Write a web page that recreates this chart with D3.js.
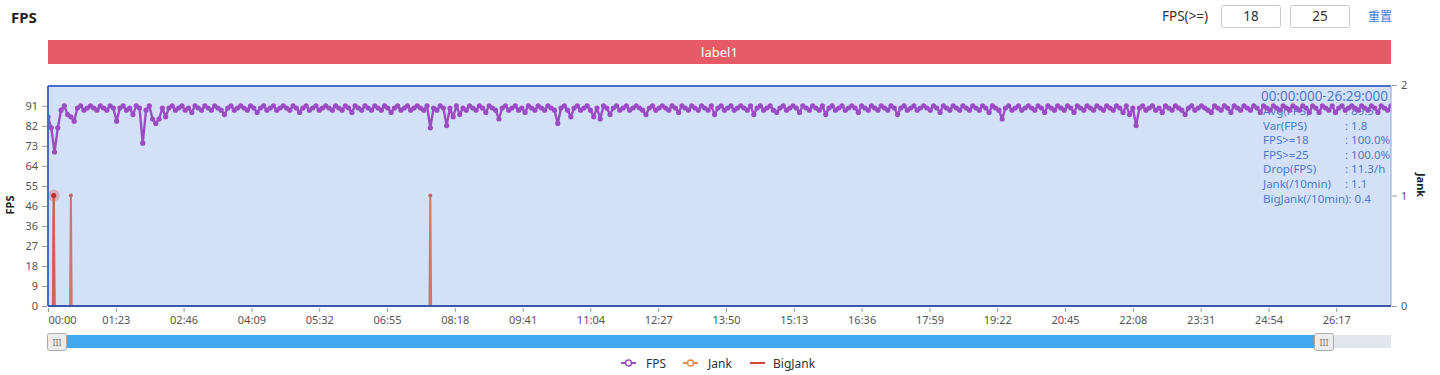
<!DOCTYPE html>
<html>
  <head>
    <meta charset="utf-8">
    <title>FPS</title>
    <script src="https://d3js.org/d3.v7.min.js" charset="utf-8"></script>
    <style>
      body { margin: 0; background: #fff; font-family: "Noto Sans", "Noto Sans CJK SC", sans-serif; }
      .tick text { font-family: "Noto Sans", sans-serif; }
    </style>
  </head>
  <body>
    <div id="chart"></div>
    <script>
      const fpsStep = 4;
      const fpsValues = [
        86, 81, 70, 81, 89, 91, 87, 86, 84, 90, 91, 89, 90, 91, 90, 89, 91, 90, 89, 91,
        90, 84, 90, 91, 89, 90, 87, 91, 90, 74, 89, 91, 85, 83, 85, 90, 86, 90, 91, 89,
        90, 91, 89, 90, 88, 91, 90, 89, 91, 90, 89, 91, 90, 89, 87, 90, 91, 89, 90, 91,
        90, 89, 91, 90, 88, 90, 91, 89, 90, 91, 89, 90, 91, 90, 89, 91, 90, 88, 90, 91,
        89, 90, 91, 89, 90, 91, 90, 89, 91, 90, 89, 91, 90, 88, 91, 90, 89, 91, 90, 89,
        91, 90, 89, 91, 90, 88, 90, 91, 89, 90, 91, 89, 90, 91, 90, 89, 91, 81, 90, 89,
        91, 90, 82, 90, 86, 91, 87, 90, 89, 91, 90, 89, 91, 90, 88, 91, 90, 89, 85, 90,
        91, 89, 90, 91, 89, 90, 88, 91, 90, 89, 91, 90, 89, 91, 90, 89, 83, 90, 91, 89,
        86, 90, 91, 89, 90, 91, 89, 86, 90, 85, 91, 90, 87, 90, 91, 89, 90, 91, 89, 90,
        91, 90, 89, 87, 90, 91, 89, 90, 91, 90, 89, 91, 90, 88, 91, 90, 89, 91, 90, 89,
        91, 90, 89, 91, 87, 90, 91, 89, 90, 91, 89, 90, 91, 90, 89, 91, 87, 90, 91, 89,
        90, 91, 89, 88, 90, 91, 89, 90, 91, 90, 88, 91, 90, 89, 91, 90, 89, 91, 87, 90,
        91, 89, 90, 91, 89, 90, 91, 90, 88, 91, 90, 89, 91, 90, 89, 91, 90, 89, 91, 90,
        87, 90, 91, 89, 90, 91, 89, 90, 91, 90, 89, 91, 90, 88, 91, 90, 89, 91, 90, 89,
        91, 90, 89, 91, 90, 89, 91, 90, 88, 91, 90, 89, 85, 90, 91, 89, 90, 91, 89, 90,
        91, 90, 89, 91, 90, 88, 91, 90, 89, 91, 90, 89, 91, 90, 88, 91, 90, 89, 91, 90,
        89, 91, 90, 89, 91, 90, 89, 91, 90, 88, 91, 87, 90, 82, 90, 91, 89, 90, 91, 89,
        90, 88, 91, 90, 89, 91, 90, 89, 87, 90, 91, 89, 90, 91, 90, 89, 88, 91, 90, 89,
        91, 90, 88, 91, 90, 89, 91, 90, 89, 91, 90, 88, 91, 90, 89, 91, 90, 89, 91, 90,
        89, 91, 90, 89, 91, 90, 88, 91, 90, 88, 91, 90, 89, 91, 88, 90, 91, 89, 90, 91,
        90, 89, 91, 90, 89, 91, 90, 88, 91, 90, 89, 91
      ];
      // [seconds, count]
      const jankData = [[0, 0], [6, 0], [7, 1], [8, 0], [27, 0], [28, 1], [29, 0], [467, 0], [468, 1], [469, 0], [1644, 0]];
      const bigJankData = [[0, 0], [6, 0], [7, 1], [8, 0], [1644, 0]];

      const xTickLabels = ["00:00", "01:23", "02:46", "04:09", "05:32", "06:55", "08:18", "09:41", "11:04", "12:27",
        "13:50", "15:13", "16:36", "17:59", "19:22", "20:45", "22:08", "23:31", "24:54", "26:17"];
      const yTickValues = [0, 9.1, 18.2, 27.3, 36.4, 45.5, 54.6, 63.7, 72.8, 81.9, 91];
      const yTickLabels = ["0", "9", "18", "27", "36", "46", "55", "64", "73", "82", "91"];
      const jankTicks = [0, 1, 2];

      const statRange = "00:00:000-26:29:000";
      const statLabels = ["Avg(FPS)", "Var(FPS)", "FPS>=18", "FPS>=25", "Drop(FPS)", "Jank(/10min)"];
      const statValues = [": 89.5", ": 1.8", ": 100.0%", ": 100.0%", ": 11.3/h", ": 1.1"];
      const statLast = "BigJank(/10min): 0.4";

      const thresholds = ["18", "25"];
      const legendItems = ["FPS", "Jank", "BigJank"];

      const W = 1440, H = 375;
      const pL = 48, pR = 1391, pT = 86, pB = 306;
      const purple = "#9b4cc4", orange = "#ee8a4c", red = "#d8443e", axisBlue = "#4a6cc2", textBlue = "#4f78cc";
      const colors = { FPS: purple, Jank: orange, BigJank: red };

      const toSec = s => { const p = s.split(":"); return +p[0] * 60 + +p[1]; };
      const fpsData = fpsValues.map((v, i) => [i * fpsStep, v]);

      const x = d3.scaleLinear().domain([0, 1644]).range([pL, pR]);
      const y = d3.scaleLinear().domain([0, 100]).range([pB, pT]);
      const yJ = d3.scaleLinear().domain([0, 2]).range([pB, pT - 1]);

      const svg = d3.select("#chart").append("svg")
        .attr("width", W).attr("height", H)
        .style("font-family", '"Noto Sans", sans-serif');

      // title + threshold inputs
      svg.append("text").attr("x", 11).attr("y", 23).attr("font-size", 15).attr("font-weight", "bold")
        .attr("fill", "#222").text("FPS");
      svg.append("text").attr("x", 1162).attr("y", 21).attr("font-size", 13.5).attr("fill", "#333").text("FPS(>=)");
      thresholds.forEach((t, i) => {
        const bx = 1221 + i * 69;
        svg.append("rect").attr("x", bx + 0.5).attr("y", 5.5).attr("width", 59).attr("height", 22).attr("rx", 2)
          .attr("fill", "#fff").attr("stroke", "#c9c9c9");
        svg.append("text").attr("x", bx + 30).attr("y", 21).attr("text-anchor", "middle")
          .attr("font-size", 13.5).attr("fill", "#333").text(t);
      });
      svg.append("text").attr("x", 1368).attr("y", 21).attr("font-size", 12).attr("fill", "#3b7ddd")
        .style("font-family", '"Noto Sans CJK SC", sans-serif').text("重置");

      // label bar
      svg.append("rect").attr("x", pL).attr("y", 40).attr("width", pR - pL).attr("height", 24).attr("fill", "#e85a67");
      svg.append("text").attr("x", (pL + pR) / 2).attr("y", 56.5).attr("text-anchor", "middle")
        .attr("font-size", 13).attr("fill", "#fff").text("label1");

      // plot background
      svg.append("defs").append("clipPath").attr("id", "plotclip")
        .append("rect").attr("x", pL).attr("y", pT - 2).attr("width", pR - pL).attr("height", pB - pT + 4);
      svg.append("rect").attr("x", pL).attr("y", pT).attr("width", pR - pL).attr("height", pB - pT)
        .attr("fill", "#d3e1f8");

      const plot = svg.append("g").attr("clip-path", "url(#plotclip)");

      // stats text (under the series)
      const stats = plot.append("g").attr("fill", textBlue).attr("font-size", 11.5);
      stats.append("text").attr("x", 1388).attr("y", 101).attr("text-anchor", "end").attr("font-size", 13.5).text(statRange);
      statLabels.forEach((l, i) => {
        const ty = 115 + i * 14.6;
        stats.append("text").attr("x", 1263).attr("y", ty).text(l);
        stats.append("text").attr("x", 1345).attr("y", ty).text(statValues[i]);
      });
      stats.append("text").attr("x", 1263).attr("y", 115 + statLabels.length * 14.6).text(statLast);

      // FPS series
      const line = d3.line().x(d => x(d[0])).y(d => y(d[1]));
      plot.append("path").datum(fpsData).attr("d", line).attr("fill", "none")
        .attr("stroke", purple).attr("stroke-width", 2.4).attr("stroke-linejoin", "round");
      plot.selectAll(".fpsdot").data(fpsData).enter().append("circle").attr("class", "fpsdot")
        .attr("cx", d => x(d[0])).attr("cy", d => y(d[1])).attr("r", 2.6).attr("fill", purple);

      // Jank / BigJank series
      const jline = d3.line().x(d => x(d[0])).y(d => yJ(d[1]));
      plot.append("path").datum(jankData).attr("d", jline).attr("fill", "none")
        .attr("stroke", "#c77a6e").attr("stroke-width", 2);
      plot.append("path").datum(bigJankData).attr("d", jline).attr("fill", "none")
        .attr("stroke", "#c9615f").attr("stroke-width", 2);
      plot.selectAll(".jdot").data(jankData.filter(d => d[1] > 0)).enter().append("circle").attr("class", "jdot")
        .attr("cx", d => x(d[0])).attr("cy", d => yJ(d[1])).attr("r", 2).attr("fill", "#b86a62");
      const hl = bigJankData.find(d => d[1] > 0);
      plot.append("circle").attr("cx", x(hl[0])).attr("cy", yJ(hl[1])).attr("r", 6)
        .attr("fill", "rgba(214,90,90,0.35)");
      plot.append("circle").attr("cx", x(hl[0])).attr("cy", yJ(hl[1])).attr("r", 2.6).attr("fill", "#b8323a");

      // plot border
      svg.append("line").attr("x1", pL).attr("x2", pR).attr("y1", pT).attr("y2", pT)
        .attr("stroke", axisBlue).attr("stroke-width", 2);
      svg.append("line").attr("x1", pL).attr("x2", pL).attr("y1", pT).attr("y2", pB)
        .attr("stroke", axisBlue).attr("stroke-width", 2);
      svg.append("line").attr("x1", pR).attr("x2", pR).attr("y1", pT).attr("y2", pB)
        .attr("stroke", "#8aa3dc").attr("stroke-width", 1);
      svg.append("line").attr("x1", pL).attr("x2", pR).attr("y1", pB).attr("y2", pB)
        .attr("stroke", "#3a58a8").attr("stroke-width", 2);

      // axes
      const yAxis = svg.append("g").attr("transform", `translate(${pL - 1},0)`)
        .call(d3.axisLeft(y).tickValues(yTickValues).tickFormat((d, i) => yTickLabels[i]).tickSize(5).tickPadding(4));
      const jAxis = svg.append("g").attr("transform", `translate(${pR + 1},0)`)
        .call(d3.axisRight(yJ).tickValues(jankTicks).tickFormat(d3.format("d")).tickSize(5).tickPadding(4));
      const xAxis = svg.append("g").attr("transform", `translate(0,${pB + 2})`)
        .call(d3.axisBottom(x).tickValues(xTickLabels.map(toSec)).tickFormat((d, i) => xTickLabels[i]).tickSize(4).tickPadding(4));
      [yAxis, jAxis, xAxis].forEach(a => {
        a.select(".domain").remove();
        a.selectAll(".tick line").attr("stroke", "#999");
        a.selectAll(".tick text").attr("fill", "#555").attr("font-size", 11);
      });
      xAxis.select(".tick text").attr("text-anchor", "start").attr("x", 0);

      svg.append("text").attr("transform", "translate(14,205) rotate(-90)").attr("text-anchor", "middle")
        .attr("font-size", 11).attr("font-weight", "bold").attr("fill", "#222").text("FPS");
      svg.append("text").attr("transform", "translate(1417,185) rotate(90)").attr("text-anchor", "middle")
        .attr("font-size", 11).attr("font-weight", "bold").attr("fill", "#222").text("Jank");

      // data zoom slider
      svg.append("rect").attr("x", pL).attr("y", 335).attr("width", pR - pL).attr("height", 13).attr("fill", "#e2e5ec");
      svg.append("rect").attr("x", pL).attr("y", 335).attr("width", 1324 - pL).attr("height", 13).attr("fill", "#41a9f2");
      [57, 1324].forEach(hx => {
        svg.append("rect").attr("x", hx - 9.5).attr("y", 333.5).attr("width", 19).attr("height", 17).attr("rx", 2)
          .attr("fill", "#ececec").attr("stroke", "#aaa");
        svg.append("text").attr("x", hx).attr("y", 345.5).attr("text-anchor", "middle").attr("font-size", 9)
          .attr("fill", "#777").text("III");
      });

      // legend
      const legendX = [621, 683, 750];
      const legend = svg.selectAll(".legend").data(legendItems).enter().append("g")
        .attr("transform", (d, i) => `translate(${legendX[i]},363)`);
      legend.append("line").attr("x1", 0).attr("x2", 15).attr("stroke", d => colors[d]).attr("stroke-width", 2);
      legend.filter(d => d !== "BigJank").append("circle").attr("cx", 7.5).attr("r", 3)
        .attr("fill", "#fff").attr("stroke", d => colors[d]).attr("stroke-width", 1.5);
      legend.append("text").attr("x", (d, i) => i === 2 ? 23 : 25).attr("y", 4.5).attr("font-size", 12)
        .attr("fill", "#333").text(d => d);
    </script>
  </body>
</html>
